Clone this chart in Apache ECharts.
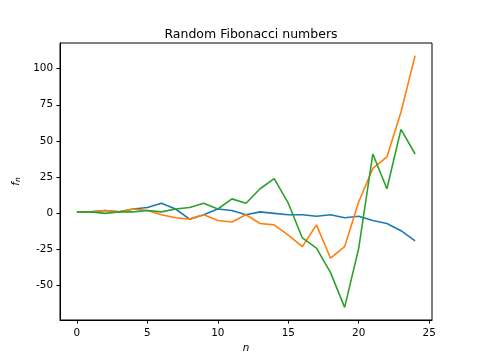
<!DOCTYPE html>
<html>
<head>
<meta charset="utf-8">
<script src="https://cdn.jsdelivr.net/npm/echarts@6/dist/echarts.min.js"></script>
<style>
  html, body { margin: 0; padding: 0; background: #fff; }
  #chart { width: 480px; height: 360px; }
</style>
</head>
<body>
<div id="chart"></div>
<script>
// random fibonacci runs, f_n = f_(n-1) +/- f_(n-2)
const nValues = [0,1,2,3,4,5,6,7,8,9,10,11,12,13,14,15,16,17,18,19,20,21,22,23,24];
const run1 = [1,1,2,1,3,4,7,3,-4,-1,3,2,-1,1,0,-1,-1,-2,-1,-3,-2,-5,-7,-12,-19];
const run2 = [1,1,2,1,3,2,-1,-3,-4,-1,-5,-6,-1,-7,-8,-15,-23,-8,-31,-23,8,31,39,70,109];
const run3 = [1,1,0,1,1,2,1,3,4,7,3,10,7,17,24,7,-17,-24,-41,-65,-24,41,17,58,41];
const xTicks = [0,5,10,15,20,25];
const yTicks = [-50,-25,0,25,50,75,100];

const colors = ['#1f77b4', '#ff7f0e', '#2ca02c'];
const font = 'DejaVu Sans';

const pairs = (ys) => nValues.map((n, i) => [n, ys[i]]);

// matplotlib style 5% margins
const allY = run1.concat(run2, run3);
const yMinData = Math.min(...allY), yMaxData = Math.max(...allY);
const yPad = (yMaxData - yMinData) * 0.05;
const xPad = (nValues[nValues.length - 1] - nValues[0]) * 0.05;

const chart = echarts.init(document.getElementById('chart'), null, { renderer: 'canvas' });

const option = {
  animation: false,
  backgroundColor: '#fff',
  title: {
    text: 'Random Fibonacci numbers',
    left: 246, top: 23, textAlign: 'center',
    textStyle: { fontFamily: font, fontSize: 12.5, fontWeight: 'normal', color: '#000' }
  },
  grid: {
    left: 60, right: 48, top: 43, bottom: 40,
    show: true, borderColor: '#000', borderWidth: 1, backgroundColor: 'transparent'
  },
  xAxis: {
    type: 'value',
    min: nValues[0] - xPad,
    max: nValues[nValues.length - 1] + xPad,
    name: 'n',
    nameLocation: 'middle',
    nameGap: 23,
    nameTextStyle: { fontFamily: font, fontSize: 10.4, fontStyle: 'italic', color: '#000' },
    splitLine: { show: false },
    axisLine: { show: true, onZero: false, lineStyle: { color: '#000', width: 1 } },
    axisTick: { show: true, length: 3.6, customValues: xTicks, lineStyle: { color: '#000' } },
    axisLabel: { customValues: xTicks, margin: 8, fontFamily: font, fontSize: 10.4, color: '#000' }
  },
  yAxis: {
    type: 'value',
    min: yMinData - yPad,
    max: yMaxData + yPad,
    name: '{f|f}{s|n}',
    nameLocation: 'middle',
    nameGap: 37,
    nameRotate: 90,
    nameTextStyle: {
      rich: {
        f: { fontFamily: font, fontSize: 10.4, fontStyle: 'italic', color: '#000' },
        s: { fontFamily: font, fontSize: 7.5, fontStyle: 'italic', color: '#000', verticalAlign: 'bottom', padding: [4, 0, 0, 0] }
      }
    },
    splitLine: { show: false },
    axisLine: { show: true, onZero: false, lineStyle: { color: '#000', width: 1 } },
    axisTick: { show: true, length: 3.6, customValues: yTicks, lineStyle: { color: '#000' } },
    axisLabel: { customValues: yTicks, margin: 7, fontFamily: font, fontSize: 10.4, color: '#000' }
  },
  series: [run1, run2, run3].map((ys, i) => ({
    type: 'line',
    data: pairs(ys),
    showSymbol: false,
    symbol: 'none',
    lineStyle: { color: colors[i], width: 1.6 },
    itemStyle: { color: colors[i] }
  }))
};

chart.setOption(option);
</script>
</body>
</html>
